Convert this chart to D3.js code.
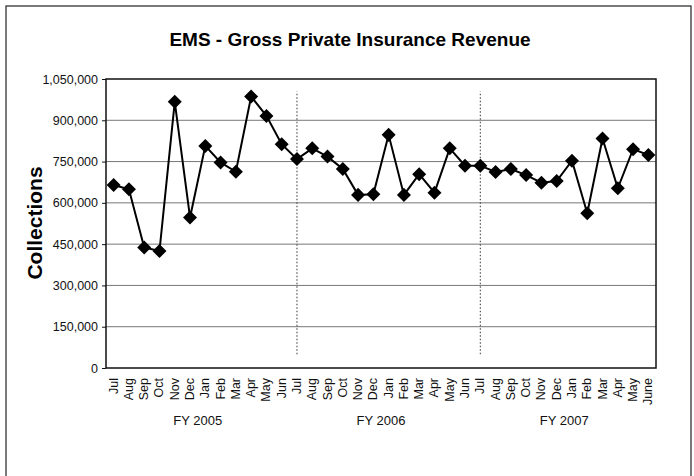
<!DOCTYPE html>
<html>
<head>
<meta charset="utf-8">
<script src="https://cdn.jsdelivr.net/npm/d3@7"></script>
<style>
	body { margin: 0; background: #fff; }
	svg { display: block; font-family: Arial, 'Liberation Sans', sans-serif; }
</style>
</head>
<body>
<svg id="chart-svg" width="694" height="476"></svg>
<script>
// month labels along the x axis, Jul 2004 - June 2007
const MONTHS = [
	'Jul', 'Aug', 'Sep', 'Oct', 'Nov', 'Dec', 'Jan', 'Feb', 'Mar', 'Apr', 'May', 'Jun',
	'Jul', 'Aug', 'Sep', 'Oct', 'Nov', 'Dec', 'Jan', 'Feb', 'Mar', 'Apr', 'May', 'Jun',
	'Jul', 'Aug', 'Sep', 'Oct', 'Nov', 'Dec', 'Jan', 'Feb', 'Mar', 'Apr', 'May', 'June'
];
// collections per month
const COLLECTIONS = [
	665000, 649000, 438000, 425000, 967000, 547000, 807000, 747000, 713000, 986000, 916000, 813000,
	759000, 798000, 768000, 723000, 629000, 631000, 847000, 629000, 704000, 637000, 798000, 735000,
	735000, 712000, 723000, 701000, 673000, 679000, 753000, 562000, 834000, 653000, 795000, 774000
];
const FISCAL_YEARS = ['FY 2005', 'FY 2006', 'FY 2007'];
const Y_TICKS = [0, 150000, 300000, 450000, 600000, 750000, 900000, 1050000];
// fiscal-year separators: dotted lines at first month of FY06 and FY07
const SEPARATOR_INDEX = [12, 24];
const SEPARATOR_RANGE = [50000, 1005000];

const svg = d3.select('#chart-svg');
const margin = { left: 106, top: 79, right: 656, bottom: 368 };

// outer frame
svg.append('rect')
	.attr('x', 6).attr('y', 6)
	.attr('width', 685).attr('height', 490)
	.attr('fill', 'none').attr('stroke', '#222').attr('stroke-width', 1.2);

svg.append('text')
	.attr('x', 350).attr('y', 46)
	.attr('text-anchor', 'middle')
	.attr('font-size', 19).attr('font-weight', 'bold')
	.text('EMS - Gross Private Insurance Revenue');

const idx = d3.range(MONTHS.length);
const x = d3.scaleBand().domain(idx).range([ margin.left, margin.right ]);
const y = d3.scaleLinear().domain([ 0, 1050000 ]).range([ margin.bottom, margin.top ]);
const cx = (i) => x(i) + x.bandwidth() / 2;

// horizontal gridlines
svg.append('g')
	.selectAll('line')
	.data(Y_TICKS.slice(1, -1))
	.enter()
	.append('line')
	.attr('x1', margin.left).attr('x2', margin.right)
	.attr('y1', (d) => y(d)).attr('y2', (d) => y(d))
	.attr('stroke', '#777').attr('stroke-width', 1);

// fiscal year separators
svg.append('g')
	.selectAll('line')
	.data(SEPARATOR_INDEX)
	.enter()
	.append('line')
	.attr('x1', (d) => cx(d)).attr('x2', (d) => cx(d))
	.attr('y1', y(SEPARATOR_RANGE[0])).attr('y2', y(SEPARATOR_RANGE[1]))
	.attr('stroke', '#333').attr('stroke-width', 1).attr('stroke-dasharray', '1.5,2');

// plot area border
svg.append('rect')
	.attr('x', margin.left).attr('y', margin.top)
	.attr('width', margin.right - margin.left).attr('height', margin.bottom - margin.top)
	.attr('fill', 'none').attr('stroke', '#111').attr('stroke-width', 1.5);

// y axis
const yAxis = svg.append('g')
	.attr('transform', 'translate(' + margin.left + ',0)')
	.call(d3.axisLeft(y).tickValues(Y_TICKS).tickFormat(d3.format(',')).tickSize(4).tickPadding(4));
yAxis.select('.domain').remove();
yAxis.selectAll('text').attr('font-size', 12.5).attr('font-family', 'Arial, sans-serif').attr('fill', '#111');
yAxis.selectAll('line').attr('stroke', '#111');

svg.append('text')
	.attr('transform', 'translate(42,223) rotate(-90)')
	.attr('text-anchor', 'middle')
	.attr('font-size', 21).attr('font-weight', 'bold')
	.text('Collections');

// x axis month labels
svg.append('g')
	.selectAll('text')
	.data(MONTHS)
	.enter()
	.append('text')
	.attr('transform', (d, i) => 'translate(' + (cx(i) + 4) + ',378) rotate(-90)')
	.attr('text-anchor', 'end')
	.attr('font-size', 12.5)
	.attr('fill', '#111')
	.text((d) => d);

// fiscal year group labels
svg.append('g')
	.selectAll('text')
	.data(FISCAL_YEARS)
	.enter()
	.append('text')
	.attr('x', (d, i) => (cx(i * 12) + cx(i * 12 + 11)) / 2)
	.attr('y', 425)
	.attr('text-anchor', 'middle')
	.attr('font-size', 13)
	.attr('fill', '#111')
	.text((d) => d);

// series line + diamond markers
const line = d3.line().x((d, i) => cx(i)).y((d) => y(d));
svg.append('path')
	.datum(COLLECTIONS)
	.attr('d', line)
	.attr('fill', 'none').attr('stroke', '#000').attr('stroke-width', 2);

svg.append('g')
	.selectAll('path')
	.data(COLLECTIONS)
	.enter()
	.append('path')
	.attr('transform', (d, i) => 'translate(' + cx(i) + ',' + y(d) + ')')
	.attr('d', d3.symbol().type(d3.symbolDiamond2).size(125))
	.attr('fill', '#000');
</script>
</body>
</html>
